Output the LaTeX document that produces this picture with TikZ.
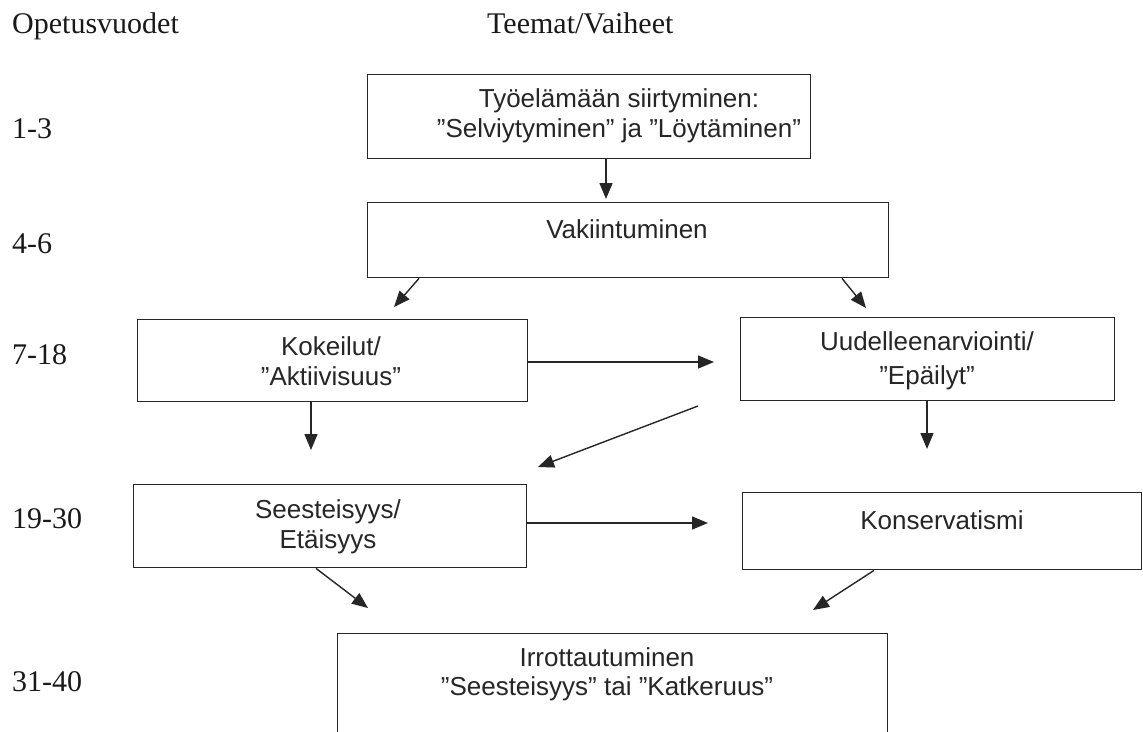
\documentclass[tikz,border=0pt]{standalone}
\usepackage{fontspec}
\setmainfont{Liberation Serif}
\newfontfamily\boxfont{Liberation Sans}
\usetikzlibrary{arrows.meta}
\begin{document}
\begin{tikzpicture}[x=1pt,y=-1pt,
  box/.style={draw=black!85, line width=1.4pt, rectangle, inner sep=0pt, anchor=north west},
  btext/.style={font=\boxfont\fontsize{26}{30}\selectfont, text=black!85, align=center, inner sep=0pt},
  lab/.style={font=\fontsize{30}{34}\selectfont, anchor=base west, inner sep=0pt, text=black!90},
  arr/.style={line width=1.4pt, draw=black!85, -{Triangle[length=16pt,width=13pt]}}]
\clip (0,0) rectangle (1143,731);
\useasboundingbox (0,0) rectangle (1143,731);
\fill[white] (0,0) rectangle (1143,731);

% headers and year labels
\node[lab] (h1) at (12,33) {Opetusvuodet};
\node[lab] (h2) at (487,33) {Teemat/Vaiheet};
\node[lab] (y1) at (12,138) {1-3};
\node[lab] (y2) at (12,253) {4-6};
\node[lab] (y3) at (12,364) {7-18};
\node[lab] (y4) at (12,528) {19-30};
\node[lab] (y5) at (12,691) {31-40};

% boxes
\node[box, minimum width=443pt, minimum height=84pt] (b1) at (367,74) {};
\node[box, minimum width=521pt, minimum height=75pt] (b2) at (367,202) {};
\node[box, minimum width=390pt, minimum height=82pt] (b3) at (137,319) {};
\node[box, minimum width=374pt, minimum height=83pt] (b4) at (740,317) {};
\node[box, minimum width=393pt, minimum height=83pt] (b5) at (133,484) {};
\node[box, minimum width=399pt, minimum height=77pt] (b6) at (742,492) {};
\node[box, minimum width=550pt, minimum height=140pt] (b7) at (337,633) {};

% box texts
\node[btext] (t1) at (619,116) {Työelämään siirtyminen:\\”Selviytyminen” ja ”Löytäminen”};
\node[btext] (t2) at (627,229) {Vakiintuminen};
\node[btext] (t3) at (331,361) {Kokeilut/\\”Aktiivisuus”};
\node[btext, font=\boxfont\fontsize{26}{34}\selectfont] (t4) at (927,361) {Uudelleenarviointi/\\”Epäilyt”};
\node[btext] (t5) at (328,527) {Seesteisyys/\\Etäisyys};
\node[btext] (t6) at (942,520) {Konservatismi};
\node[btext, font=\boxfont\fontsize{26}{29}\selectfont] (t7) at (607,674) {Irrottautuminen\\”Seesteisyys” tai ”Katkeruus”};

% connector end points
\coordinate (e1) at (606,199);
\coordinate (s2l) at (419,279);
\coordinate (e2l) at (394,307);
\coordinate (s2r) at (842,279);
\coordinate (e2r) at (866,308);
\coordinate (e3d) at (311,450);
\coordinate (e3r) at (714,362);
\coordinate (e4d) at (927,449);
\coordinate (d1s) at (698,406);
\coordinate (d1e) at (538,467);
\coordinate (e5r) at (708,523);
\coordinate (s5) at (316,567);
\coordinate (e5) at (368,608);
\coordinate (s6) at (874,569);
\coordinate (e6) at (813,610);

% connectors
\draw[arr] (b1.south -| e1) -- (e1);
\draw[arr] (b2.south -| s2l) -- (e2l);
\draw[arr] (b2.south -| s2r) -- (e2r);
\draw[arr] (b3.south -| e3d) -- (e3d);
\draw[arr] (b3.east |- e3r) -- (e3r);
\draw[arr] (b4.south -| e4d) -- (e4d);
\draw[arr] (d1s) -- (d1e);
\draw[arr] (b5.east |- e5r) -- (e5r);
\draw[arr] (b5.south -| s5) -- (e5);
\draw[arr] (b6.south -| s6) -- (e6);
\end{tikzpicture}
\end{document}
